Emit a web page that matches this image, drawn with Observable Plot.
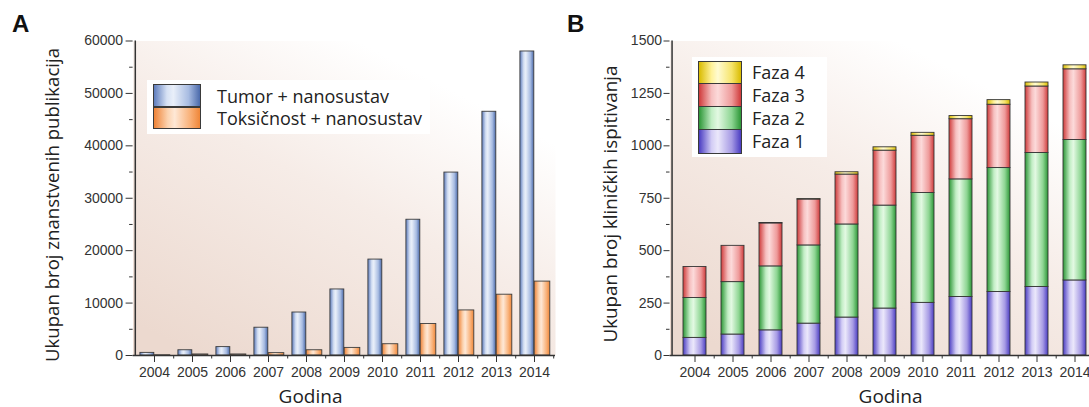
<!DOCTYPE html>
<html><head><meta charset="utf-8">
<script src="https://cdn.jsdelivr.net/npm/d3@7"></script>
<script src="https://cdn.jsdelivr.net/npm/@observablehq/plot@0.6"></script>
<style>
body{margin:0;background:#fff;}
#wrap{position:relative;width:1089px;height:407px;overflow:hidden;font-family:"Open Sans",sans-serif;color:#222;}
#pa{position:absolute;left:0;top:0;width:560px;height:407px;}
#pb{position:absolute;left:560px;top:0;width:529px;height:407px;overflow:hidden;}
#pa svg,#pb svg{display:block;max-width:none !important;}
.c{position:absolute;white-space:nowrap;line-height:1;transform:translate(-50%,-50%);}
.rot{transform:translate(-50%,-50%) rotate(-90deg);}
.letter{position:absolute;font-family:"Liberation Sans",Arial,sans-serif;font-weight:bold;font-size:24px;line-height:1;color:#111;}
.lgbg{position:absolute;background:#fff;}
.sw{position:absolute;box-sizing:border-box;border:1px solid #3a3a3a;}
.lt{position:absolute;white-space:nowrap;line-height:1;transform:translateY(-50%);font-size:18px;color:#222;}
</style></head>
<body>
<div id="wrap">
  <div id="pa"></div>
  <div id="pb"></div>
</div>
<script>
// ---------- DATA ----------
const years = ["2004","2005","2006","2007","2008","2009","2010","2011","2012","2013","2014"];
const seriesA = ["Tumor + nanosustav", "Toksičnost + nanosustav"];
const tumor = [500, 1000, 1600, 5300, 8200, 12600, 18300, 25900, 34900, 46500, 58000];
const toksicnost = [50, 200, 200, 450, 1000, 1450, 2150, 6000, 8600, 11600, 14100];
const yTicksA = [0, 10000, 20000, 30000, 40000, 50000, 60000];
const yMinorA = [5000, 15000, 25000, 35000, 45000, 55000];

const phases = ["Faza 1", "Faza 2", "Faza 3", "Faza 4"];
const faza1 = [84, 100, 120, 152, 181, 224, 251, 279, 303, 327, 358];
const faza2 = [190, 250, 305, 373, 444, 491, 524, 561, 591, 639, 670];
const faza3 = [148, 173, 205, 219, 238, 262, 273, 287, 302, 317, 337];
const faza4 = [0, 0, 2, 2, 11, 16, 14, 15, 22, 19, 19];
const yTicksB = [0, 250, 500, 750, 1000, 1250, 1500];
const yMinorB = [125, 375, 625, 875, 1125, 1375];

const titleA = "Ukupan broj znanstvenih publikacija";
const titleB = "Ukupan broj kliničkih ispitivanja";
const xTitle = "Godina";

// ---------- STYLES ----------
const grads = {
  gBlue:   [[0,"#5f7dbd"],[0.28,"#d6e1f4"],[0.42,"#e9eff9"],[0.75,"#a8bce2"],[1,"#4b6aab"]],
  gOrange: [[0,"#ee8236"],[0.3,"#fcd3b0"],[0.45,"#fee8d6"],[0.78,"#f9b27a"],[1,"#ef8638"]],
  gPurple: [[0,"#4a3cc2"],[0.3,"#d3cdf5"],[0.45,"#ebe8fb"],[0.78,"#a69ae4"],[1,"#4a3cc2"]],
  gGreen:  [[0,"#2c9636"],[0.3,"#c2eec5"],[0.45,"#e3f9e3"],[0.78,"#8dd592"],[1,"#2c9636"]],
  gRed:    [[0,"#cf3a3a"],[0.3,"#f6c0c0"],[0.45,"#fcdada"],[0.78,"#ee9a9a"],[1,"#cf3a3a"]],
  gYellow: [[0,"#d9bb00"],[0.3,"#fff29a"],[0.45,"#fffbd2"],[0.78,"#f6e46a"],[1,"#d9bb00"]]
};
const bgStops = [[0,"#ecd9cf"],[0.5,"#f6ece7"],[0.85,"#ffffff"],[1,"#ffffff"]];
const axisColor = "#333";
const tickFont = "Liberation Sans, Arial, sans-serif";

function cssGrad(stops){ return "linear-gradient(to right," + stops.map(([o,c]) => c + " " + (o*100) + "%").join(",") + ")"; }

function addDefs(svg, bgId){
  const defs = d3.select(svg).insert("defs", ":first-child");
  for (const [id, stops] of Object.entries(grads)) {
    const g = defs.append("linearGradient").attr("id", id + bgId).attr("x1",0).attr("y1",0).attr("x2",1).attr("y2",0);
    stops.forEach(([o,c]) => g.append("stop").attr("offset", o).attr("stop-color", c));
  }
  const b = defs.append("linearGradient").attr("id", bgId).attr("x1",0.15).attr("y1",1).attr("x2",0.85).attr("y2",0);
  bgStops.forEach(([o,c]) => b.append("stop").attr("offset", o).attr("stop-color", c));
}

// ---------- PANEL A ----------
const rowsA = years.map((y, i) => ({year: y, tumor: tumor[i], tox: toksicnost[i]}));
const stepA = (555 - 132.6) / years.length;
const chartA = Plot.plot({
  width: 560, height: 407,
  marginLeft: 132.6, marginRight: 5, marginTop: 40.5, marginBottom: 52,
  x: {type: "band", domain: years, padding: 0, label: null},
  y: {domain: [0, 60000], label: null},
  style: {background: "transparent", fontFamily: tickFont, fontSize: "14px", color: axisColor, maxWidth: "none"},
  marks: [
    Plot.frame({fill: "url(#bgA)", stroke: "none"}),
    Plot.barY(rowsA, {x: "year", y: "tumor", insetLeft: 4.9, insetRight: stepA/2, fill: "url(#gBluebgA)", stroke: "#3c3c3c", strokeWidth: 0.9, title: d => seriesA[0]}),
    Plot.barY(rowsA, {x: "year", y: "tox", insetLeft: stepA/2, insetRight: 3.2, fill: "url(#gOrangebgA)", stroke: "#3c3c3c", strokeWidth: 0.9, title: d => seriesA[1]}),
    Plot.ruleY([0], {stroke: axisColor, strokeWidth: 1.5}),
    Plot.ruleX([years[0]], {dx: -stepA/2, stroke: axisColor, strokeWidth: 1.5}),
    Plot.axisX(years, {tickSize: 7, tickPadding: 5, fontSize: 14, fill: "#333", stroke: axisColor}),
    Plot.axisX(years, {tickSize: 3.5, tickFormat: () => "", dx: stepA/2, stroke: axisColor}),
    Plot.axisY(yTicksA, {tickSize: 7, tickPadding: 3, fontSize: 14, tickFormat: d => String(d), fill: "#333", stroke: axisColor}),
    Plot.axisY(yMinorA, {tickSize: 3.5, tickFormat: () => "", stroke: axisColor})
  ]
});
addDefs(chartA, "bgA");
document.getElementById("pa").append(chartA);

// ---------- PANEL B ----------
const fazaVals = [faza1, faza2, faza3, faza4];
const rowsB = phases.flatMap((p, k) => years.map((y, i) => ({year: y, phase: p, value: fazaVals[k][i]})));
const chartB = Plot.plot({
  width: 545, height: 407,
  marginLeft: 109.5, marginRight: 5.6, marginTop: 40.5, marginBottom: 52,
  x: {type: "band", domain: years, paddingInner: 0.385, paddingOuter: 0.29, label: null},
  y: {domain: [0, 1500], label: null},
  color: {domain: phases, range: ["url(#gPurplebgB)", "url(#gGreenbgB)", "url(#gRedbgB)", "url(#gYellowbgB)"]},
  style: {background: "transparent", fontFamily: tickFont, fontSize: "14px", color: axisColor, maxWidth: "none"},
  marks: [
    Plot.frame({fill: "url(#bgB)", stroke: "none"}),
    Plot.barY(rowsB, Plot.stackY({x: "year", y: "value", fill: "phase", order: phases, stroke: "#353535", strokeWidth: 0.9})),
    Plot.ruleY([0], {stroke: axisColor, strokeWidth: 1.5}),
    Plot.ruleX([years[0]], {dx: -(0.29*38.4 + 23.6/2), stroke: axisColor, strokeWidth: 1.5}),
    Plot.axisX(years, {tickSize: 7, tickPadding: 5, fontSize: 14, fill: "#333", stroke: axisColor}),
    Plot.axisX(years, {tickSize: 3.5, tickFormat: () => "", dx: 38.4/2, stroke: axisColor}),
    Plot.axisY(yTicksB, {tickSize: 6, tickPadding: 2, fontSize: 14, tickFormat: d => String(d), fill: "#333", stroke: axisColor}),
    Plot.axisY(yMinorB, {tickSize: 3.5, tickFormat: () => "", stroke: axisColor})
  ]
});
addDefs(chartB, "bgB");
document.getElementById("pb").append(chartB);

// ---------- TEXT & LEGENDS ----------
const wrap = document.getElementById("wrap");
function el(cls, style, text){ const d = document.createElement("div"); d.className = cls; Object.assign(d.style, style); if (text != null) d.textContent = text; wrap.append(d); return d; }

el("letter", {left: "12px", top: "12px"}, "A");
el("letter", {left: "567px", top: "12px"}, "B");
el("c rot", {left: "51.5px", top: "204.5px", fontSize: "18.6px"}, titleA);
el("c rot", {left: "610px", top: "203.5px", fontSize: "18.8px"}, titleB);
el("c", {left: "310.5px", top: "396px", fontSize: "19px"}, xTitle);
el("c", {left: "890.5px", top: "396px", fontSize: "19px"}, xTitle);

// legend A
el("lgbg", {left: "147px", top: "80px", width: "283px", height: "54px"});
const swA = [grads.gBlue, grads.gOrange];
const rowsLegA = [[84, 23, 95.5], [107, 22, 118]];
seriesA.forEach((s, i) => {
  const [top, h, tc] = rowsLegA[i];
  el("sw", {left: "153px", top: top + "px", width: "48px", height: h + "px", background: cssGrad(swA[i])});
  el("lt", {left: "217px", top: tc + "px"}, s);
});
// legend B (Faza 4 on top)
el("lgbg", {left: "692px", top: "57px", width: "135px", height: "100px"});
const swB = {"Faza 1": grads.gPurple, "Faza 2": grads.gGreen, "Faza 3": grads.gRed, "Faza 4": grads.gYellow};
const legOrder = ["Faza 4", "Faza 3", "Faza 2", "Faza 1"];
const rowsLegB = [[61, 22.5, 72], [83, 23.5, 94.5], [106, 23.5, 117.7], [129, 24.5, 141.2]];
legOrder.forEach((p, i) => {
  const [top, h, tc] = rowsLegB[i];
  el("sw", {left: "698px", top: top + "px", width: "44px", height: h + "px", background: cssGrad(swB[p])});
  el("lt", {left: "752px", top: tc + "px"}, p);
});
</script>
</body></html>
